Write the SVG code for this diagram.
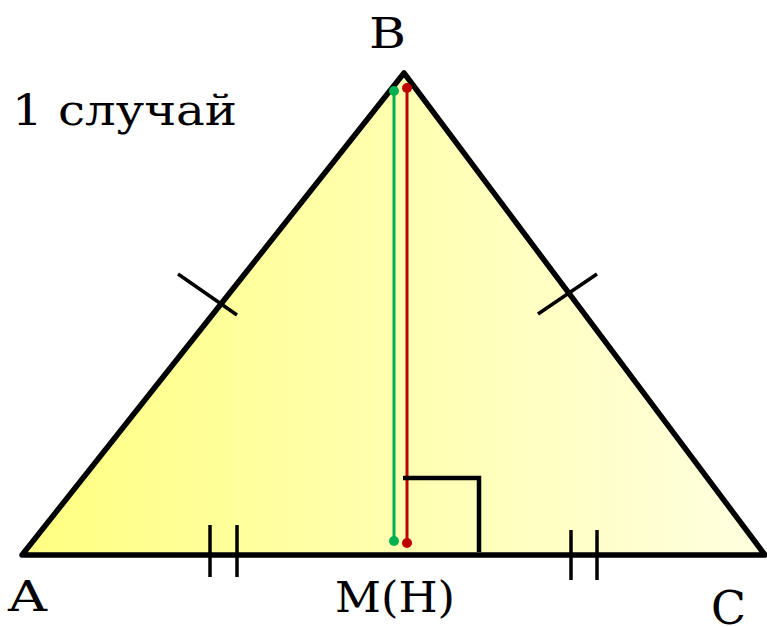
<svg xmlns="http://www.w3.org/2000/svg" width="767" height="627" viewBox="0 0 767 627">
<style>
.lbl{font-family:"DejaVu Serif","Liberation Serif",serif;font-size:42px;fill:#000}
.tk{stroke:#000;stroke-width:3.5;fill:none}
</style>
<defs>
<linearGradient id="g" x1="22" y1="0" x2="765" y2="0" gradientUnits="userSpaceOnUse">
<stop offset="0" stop-color="#ffff80"/>
<stop offset="1" stop-color="#ffffe0"/>
</linearGradient>
</defs>
<g id="triangle">
<polygon points="22,555 404,73 765,555" fill="url(#g)" stroke="#000" stroke-width="5.5" stroke-linejoin="round"/>
</g>
<g id="connectors">
<line x1="394" y1="91" x2="394" y2="541" stroke="#00b050" stroke-width="3"/>
<circle cx="394" cy="91" r="5" fill="#00b050"/>
<circle cx="394" cy="541" r="5" fill="#00b050"/>
<line x1="407" y1="88" x2="407" y2="543" stroke="#c00000" stroke-width="3"/>
<circle cx="407" cy="88" r="5" fill="#c00000"/>
<circle cx="407" cy="543" r="5" fill="#c00000"/>
<polyline points="403,478 479,478 479,552" fill="none" stroke="#000" stroke-width="4.5"/>
<line class="tk" x1="178" y1="274" x2="237" y2="315"/>
<line class="tk" x1="538" y1="314" x2="597" y2="274"/>
<line class="tk" x1="210" y1="525" x2="210" y2="577"/>
<line class="tk" x1="237" y1="525" x2="237" y2="577"/>
<line class="tk" x1="571" y1="530" x2="571" y2="580"/>
<line class="tk" x1="597" y1="530" x2="597" y2="580"/>
</g>
<g id="labels">
<text class="lbl" x="369" y="48" textLength="37" lengthAdjust="spacingAndGlyphs">B</text>
<text class="lbl" x="12" y="125" textLength="225" lengthAdjust="spacingAndGlyphs">1 случай</text>
<text class="lbl" x="8" y="611" textLength="39" lengthAdjust="spacingAndGlyphs">A</text>
<text class="lbl" x="335" y="612" textLength="120" lengthAdjust="spacingAndGlyphs">M(H)</text>
<text class="lbl" x="711" y="624" style="font-size:47px" textLength="35" lengthAdjust="spacingAndGlyphs">C</text>
</g>
</svg>
